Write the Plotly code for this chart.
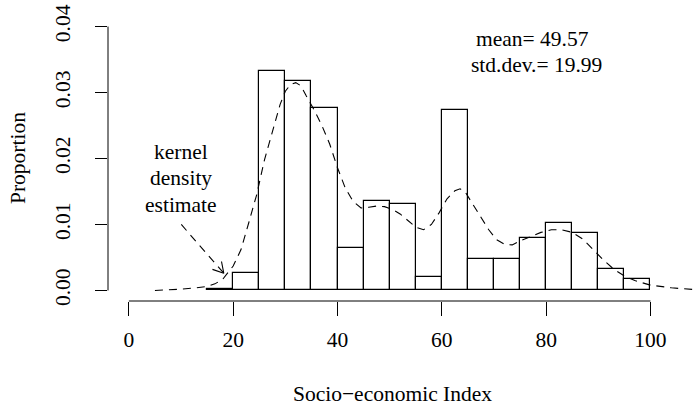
import math
import plotly.graph_objects as go

# ---------------- data ----------------
bin_edges = [15, 20, 25, 30, 35, 40, 45, 50, 55, 60, 65, 70, 75, 80, 85, 90, 95, 100]
bin_heights = [0.0002, 0.0027, 0.0333, 0.0318, 0.0277, 0.0065, 0.0136, 0.0131, 0.0020,
               0.0273, 0.0048, 0.0048, 0.0079, 0.0102, 0.0087, 0.0032, 0.0017]

kde_x = [5.0, 8.0, 10.0, 13.0, 15.0, 16.5, 18.0, 20.0, 21.5, 23.0, 24.5, 26.0, 27.5, 29.0,
         30.0, 31.0, 32.0, 33.0, 34.0, 35.5, 37.0, 38.5, 40.0, 41.5, 43.0, 44.5, 46.0, 47.5,
         49.0, 50.5, 52.0, 53.5, 55.0, 56.5, 58.0, 59.5, 61.0, 62.5, 63.5, 64.5, 66.0, 67.5,
         69.0, 70.5, 72.0, 73.5, 75.0, 77.0, 79.0, 81.0, 83.0, 85.0, 87.0, 89.0, 91.0, 93.0,
         95.0, 97.0, 100.0, 104.0, 109.0]
kde_y = [0.0000, 0.0001, 0.0002, 0.0004, 0.0006, 0.0010, 0.0017, 0.0037, 0.0062, 0.0103,
         0.0145, 0.0198, 0.0240, 0.0282, 0.0302, 0.0312, 0.0315, 0.0310, 0.0295, 0.0274,
         0.0250, 0.0222, 0.0186, 0.0155, 0.0135, 0.0125, 0.0126, 0.0128, 0.0127, 0.0123,
         0.0116, 0.0106, 0.0096, 0.0092, 0.0100, 0.0118, 0.0139, 0.0151, 0.0154, 0.0149,
         0.0131, 0.0111, 0.0092, 0.0077, 0.0070, 0.0069, 0.0075, 0.0082, 0.0088, 0.0092,
         0.0092, 0.0088, 0.0078, 0.0062, 0.0046, 0.0032, 0.0022, 0.0015, 0.0008, 0.0004,
         0.0001]

x_ticks = [0, 20, 40, 60, 80, 100]
x_tick_labels = ["0", "20", "40", "60", "80", "100"]
y_ticks = [0.00, 0.01, 0.02, 0.03, 0.04]
y_tick_labels = ["0.00", "0.01", "0.02", "0.03", "0.04"]

x_title = "Socio\u2212economic Index"
y_title = "Proportion"
kernel_lines = ["kernel", "density", "estimate"]
stats_lines = ["mean= 49.57", "std.dev.= 19.99"]

arrow_tail = (10.05, 0.0100)
arrow_tip = (18.2, 0.0026)

# ---------------- layout geometry ----------------
W, H = 698, 405
ML, MR, MT, MB = 108, 0, 16, 104
PX_X = 5.216                      # pixels per x unit
X_RANGE = [-4, -4 + (W - ML - MR) / PX_X]
Y_RANGE = [-0.0016, 0.0416]
PX_Y = (H - MT - MB) / (Y_RANGE[1] - Y_RANGE[0])

FONT = "Liberation Serif, Times New Roman, Times, serif"
FS = 21.5

bar_centers = [(a + b) / 2 for a, b in zip(bin_edges[:-1], bin_edges[1:])]
bar_widths = [b - a for a, b in zip(bin_edges[:-1], bin_edges[1:])]

fig = go.Figure()

fig.add_trace(go.Bar(
    x=bar_centers, y=bin_heights, width=bar_widths,
    marker=dict(color="white", line=dict(color="black", width=1.2)),
    hoverinfo="skip", showlegend=False,
))

fig.add_trace(go.Scatter(
    x=kde_x, y=kde_y, mode="lines",
    line=dict(color="black", width=1.1, dash="8px,6px"),
    hoverinfo="skip", showlegend=False,
))

# arrow shaft (dashed)
fig.add_trace(go.Scatter(
    x=[arrow_tail[0], arrow_tip[0]], y=[arrow_tail[1], arrow_tip[1]], mode="lines",
    line=dict(color="black", width=1.1, dash="8px,6px"),
    hoverinfo="skip", showlegend=False,
))
# arrow head (open V, R style)
dxp = (arrow_tip[0] - arrow_tail[0]) * PX_X
dyp = (arrow_tip[1] - arrow_tail[1]) * PX_Y
ang = math.atan2(dyp, dxp)
L = 12
hx, hy = [], []
for s in (1, None, -1):
    if s is None:
        hx.append(arrow_tip[0]); hy.append(arrow_tip[1])
    else:
        a = ang + s * math.radians(30)
        hx.append(arrow_tip[0] - L * math.cos(a) / PX_X)
        hy.append(arrow_tip[1] - L * math.sin(a) / PX_Y)
fig.add_trace(go.Scatter(
    x=hx, y=hy, mode="lines", line=dict(color="black", width=1.1),
    hoverinfo="skip", showlegend=False,
))

# R-style axis lines (only between first and last tick)
fig.add_shape(type="line", xref="x", yref="paper", x0=x_ticks[0], x1=x_ticks[-1], y0=0, y1=0,
              line=dict(color="black", width=1))
fig.add_shape(type="line", xref="paper", yref="y", x0=0, x1=0, y0=y_ticks[0], y1=y_ticks[-1],
              line=dict(color="black", width=1))

def pix_to_paper_y(py):
    return (H - MB - py) / (H - MT - MB)

def pix_to_paper_x(px):
    return (px - ML) / (W - ML - MR)

annotations = []
annotations.append(dict(text=x_title, xref="x", yref="paper", x=50.5, y=pix_to_paper_y(394),
                        xanchor="center", yanchor="middle", showarrow=False))
annotations.append(dict(text=y_title, xref="paper", yref="y", x=pix_to_paper_x(17.5), y=0.02,
                        xanchor="center", yanchor="middle", textangle=-90, showarrow=False))
kernel_y = [0.02098, 0.01709, 0.01291]
for t, yy in zip(kernel_lines, kernel_y):
    annotations.append(dict(text=t, xref="x", yref="y", x=9.9, y=yy,
                            xanchor="center", yanchor="middle", showarrow=False))
stats_pos = [(77.3, 0.03815), (78.2, 0.03412)]
for t, (xx, yy) in zip(stats_lines, stats_pos):
    annotations.append(dict(text=t, xref="x", yref="y", x=xx, y=yy,
                            xanchor="center", yanchor="middle", showarrow=False))

fig.update_layout(
    width=W, height=H,
    margin=dict(l=ML, r=MR, t=MT, b=MB, pad=0),
    paper_bgcolor="white", plot_bgcolor="white",
    font=dict(family=FONT, size=FS, color="black"),
    bargap=0,
    annotations=annotations,
    xaxis=dict(range=X_RANGE, showgrid=False, zeroline=False, showline=False,
               tickmode="array", tickvals=x_ticks, ticktext=x_tick_labels,
               ticks="outside", ticklen=14, tickwidth=1, tickcolor="black",
               ticklabelstandoff=5, tickfont=dict(family=FONT, size=FS)),
    yaxis=dict(range=Y_RANGE, showgrid=False, zeroline=False, showline=False,
               tickmode="array", tickvals=y_ticks, ticktext=y_tick_labels,
               ticks="outside", ticklen=12, tickwidth=1, tickcolor="black",
               tickangle=-90, ticklabelstandoff=16, tickfont=dict(family=FONT, size=FS)),
)

fig.write_html("out.html")
